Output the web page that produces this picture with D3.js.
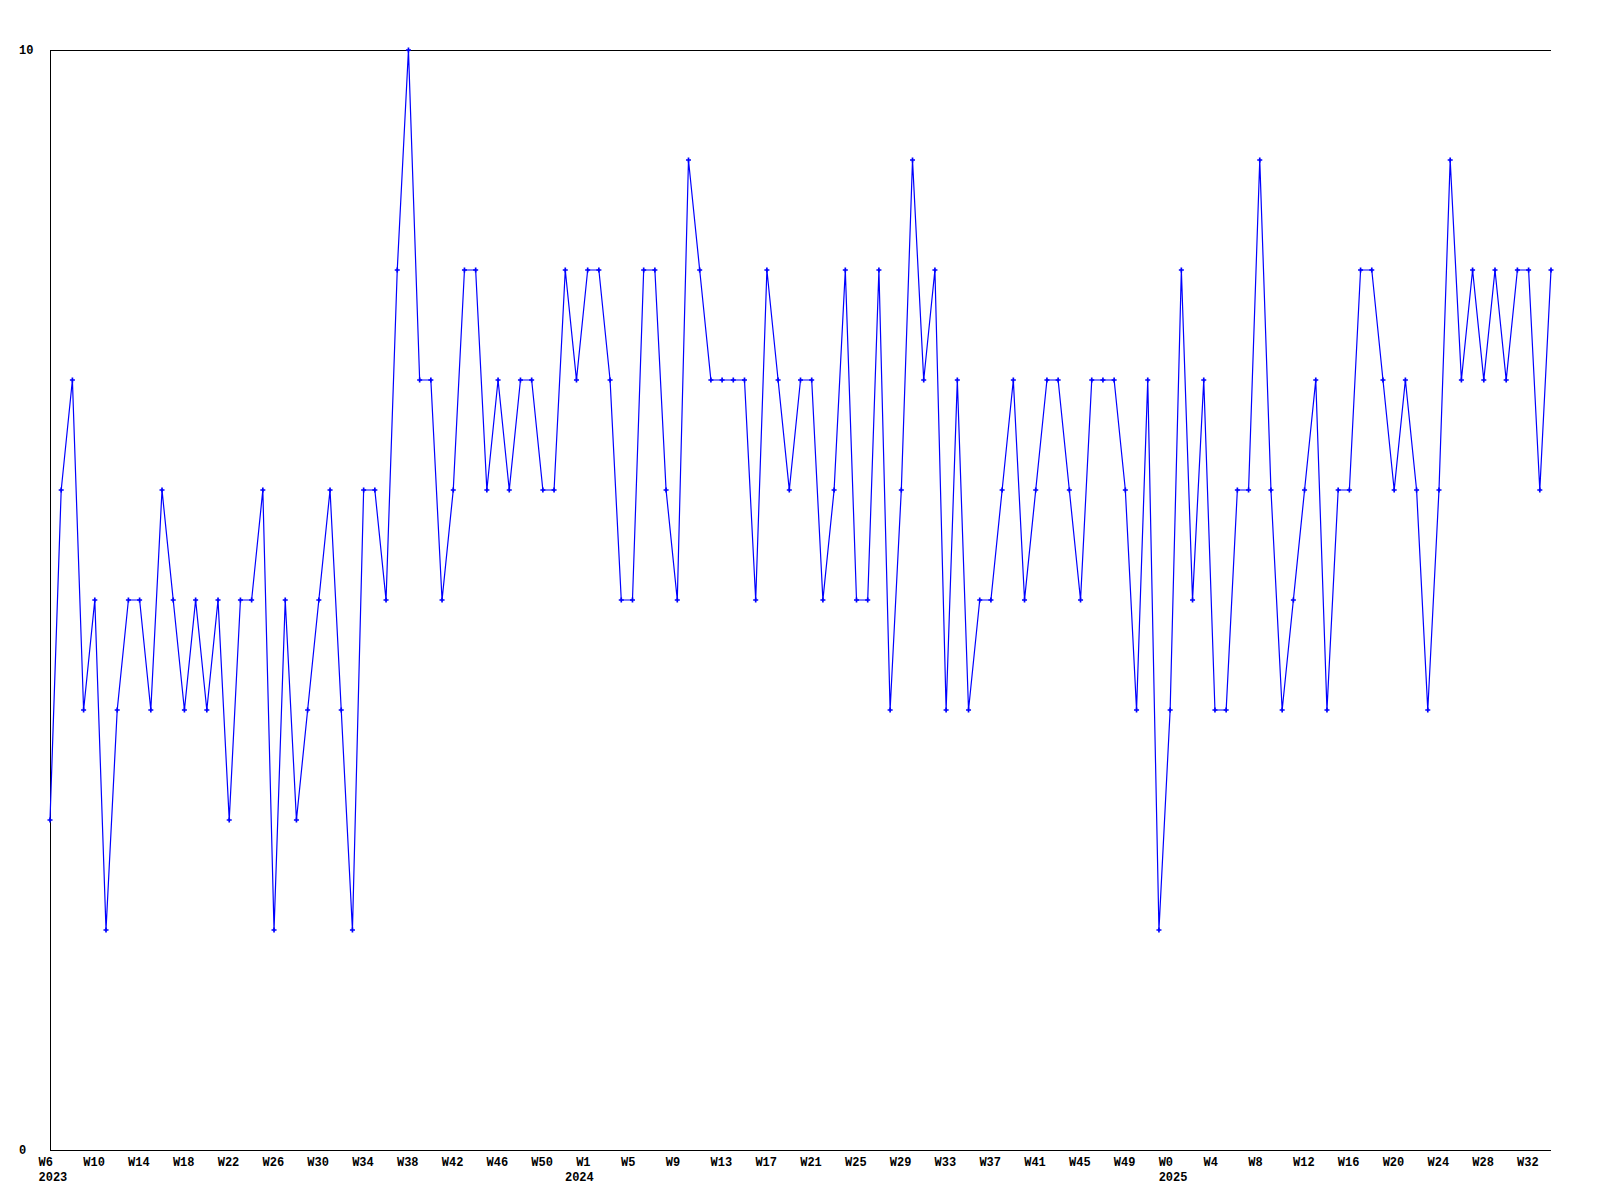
<!DOCTYPE html>
<html>
<head>
<meta charset="utf-8">
<script src="https://cdn.jsdelivr.net/npm/d3@7"></script>
<style>
  html, body { margin: 0; padding: 0; background: #ffffff; }
  svg { display: block; }
  text { font-family: "Liberation Mono", "DejaVu Sans Mono", monospace; font-weight: bold; font-size: 12px; fill: #000; }
</style>
</head>
<body>
<svg id="chart" width="1600" height="1200"></svg>
<script>
// Weekly values, W6 2023 .. W34 2025
const values = [
  3,6,7,4,5,2,4,5,5,4,
  6,5,4,5,4,5,3,5,5,6,
  2,5,3,4,5,6,4,2,6,6,
  5,8,10,7,7,5,6,8,8,6,
  7,6,7,7,6,6,8,7,8,8,
  7,5,5,8,8,6,5,9,8,7,
  7,7,7,5,8,7,6,7,7,5,
  6,8,5,5,8,4,6,9,7,8,
  4,7,4,5,5,6,7,5,6,7,
  7,6,5,7,7,7,6,4,7,2,
  4,8,5,7,4,4,6,6,9,6,
  4,5,6,7,4,6,6,8,8,7,
  6,7,6,4,6,9,7,8,7,8,
  7,8,8,6,8
];

// Week tick labels, one every 4 points
const weekTickLabels = [
  "W6","W10","W14","W18","W22","W26","W30","W34","W38","W42","W46","W50",
  "W1","W5","W9","W13","W17","W21","W25","W29","W33","W37","W41","W45","W49",
  "W0","W4","W8","W12","W16","W20","W24","W28","W32"
];
const weekTickStep = 4;

// Year labels and the index of the first point of each year
const yearLabels = ["2023","2024","2025"];
const yearStartIndex = [0, 47, 100];

// Y axis labels
const yTickValues = [0, 10];

const svg = d3.select("#chart");
const mLeft = 50, mRight = 1551, mTop = 50, mBottom = 1150;

const x = d3.scalePoint().domain(d3.range(values.length)).range([mLeft, mRight]);
const y = d3.scaleLinear().domain([0, 10]).range([mBottom, mTop]);

// frame lines: left, top, bottom
const frame = svg.append("g").attr("stroke", "#000").attr("stroke-width", 1).attr("shape-rendering", "crispEdges");
frame.append("line").attr("x1", mLeft).attr("x2", mLeft).attr("y1", mTop).attr("y2", mBottom);
frame.append("line").attr("x1", mLeft).attr("x2", mRight).attr("y1", mTop).attr("y2", mTop);
frame.append("line").attr("x1", mLeft).attr("x2", mRight).attr("y1", mBottom).attr("y2", mBottom);

// y labels
svg.append("g").selectAll("text").data(yTickValues).join("text")
  .attr("x", 19)
  .attr("y", d => y(d))
  .attr("dy", "0.35em")
  .text(d => d);

// week labels
svg.append("g").selectAll("text").data(weekTickLabels).join("text")
  .attr("x", (d, k) => x(k * weekTickStep) - 11.5)
  .attr("y", 1166)
  .text(d => d);

// year labels
svg.append("g").selectAll("text").data(yearLabels).join("text")
  .attr("x", (d, k) => x(yearStartIndex[k]) - 11.5)
  .attr("y", 1181)
  .text(d => d);

// line
const line = d3.line().x((d, i) => x(i)).y(d => y(d));
svg.append("path")
  .datum(values)
  .attr("fill", "none")
  .attr("stroke", "#0000ff")
  .attr("stroke-width", 1.2)
  .attr("d", line);

// markers
const sym = d3.symbol().type(d3.symbolCross).size(14);
svg.append("g").selectAll("path").data(values).join("path")
  .attr("transform", (d, i) => `translate(${x(i)},${y(d)})`)
  .attr("fill", "#0000ff")
  .attr("d", sym);
</script>
</body>
</html>
